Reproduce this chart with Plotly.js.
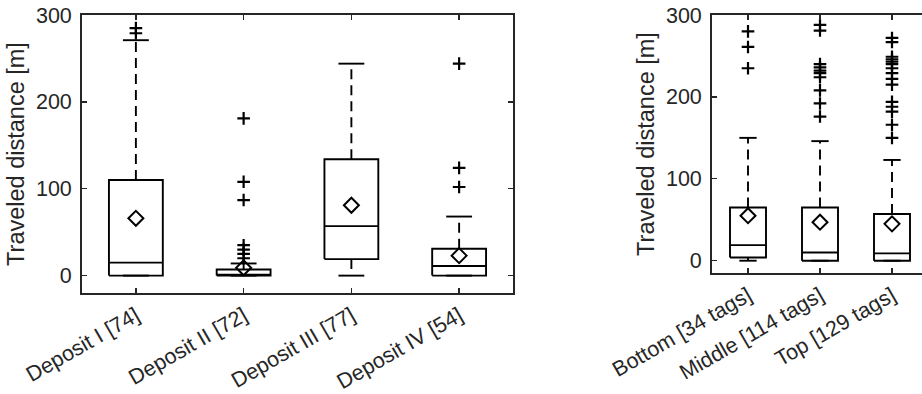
<!DOCTYPE html>
<html>
<head>
<meta charset="utf-8">
<script src="https://cdn.plot.ly/plotly-3.0.1.min.js"></script>
<style>
  html, body { margin: 0; padding: 0; background: #fff; overflow: hidden; }
  #chart { width: 940px; height: 394px; }
</style>
</head>
<body>
<div id="chart"></div>
<script>
// ---------- Data: left panel (deposits) ----------
const depositLabels = ['Deposit I [74]', 'Deposit II [72]', 'Deposit III [77]', 'Deposit IV [54]'];
const depositQ1 = [0, 0, 19, 0];
const depositMedian = [15, 1, 57, 11];
const depositQ3 = [110, 7, 134, 31];
const depositLowerWhisker = [0, 0, 0, 0];
const depositUpperWhisker = [271, 14, 244, 68];
const depositMean = [66, 9, 81, 23];
const outliersDepositI = [279, 285];
const outliersDepositII = [20, 25, 30, 35, 87, 108, 181];
const outliersDepositIII = [];
const outliersDepositIV = [102, 124, 244];

// ---------- Data: right panel (layers) ----------
const layerLabels = ['Bottom [34 tags]', 'Middle [114 tags]', 'Top [129 tags]'];
const layerQ1 = [4, 0, 0];
const layerMedian = [19, 10, 9];
const layerQ3 = [65, 65, 57];
const layerLowerWhisker = [0, 0, 0];
const layerUpperWhisker = [150, 146, 123];
const layerMean = [55, 47, 45];
const outliersBottom = [235, 261, 280];
const outliersMiddle = [176, 192, 208, 224, 229, 232, 236, 240, 281, 288];
const outliersTop = [150, 166, 182, 188, 194, 215, 222, 229, 235, 240, 243, 246, 249, 267, 272];

const yTicks = [0, 100, 200, 300];

// ---------- Styling ----------
const BOX_HALF = 0.25;
const CAP_HALF = 0.12;
const INK = '#000000';
const AXIS_COLOR = '#262626';
const TEXT_COLOR = '#262626';
const FONT = 'Liberation Sans, Arial, Helvetica, sans-serif';
const LW = 1.9;

function buildPanel(q1, med, q3, lo, hi, mean, outlierSets, xa, ya) {
  const bx = [], by = [], mx = [], my = [], wx = [], wy = [], cx = [], cy = [];
  const ox = [], oy = [], ax = [], ay = [];
  for (let i = 0; i < q1.length; i++) {
    const p = i + 1;
    bx.push(p - BOX_HALF, p + BOX_HALF, p + BOX_HALF, p - BOX_HALF, p - BOX_HALF, null);
    by.push(q1[i], q1[i], q3[i], q3[i], q1[i], null);
    mx.push(p - BOX_HALF, p + BOX_HALF, null);
    my.push(med[i], med[i], null);
    if (hi[i] > q3[i]) { wx.push(p, p, null); wy.push(q3[i], hi[i], null); }
    if (lo[i] < q1[i]) { wx.push(p, p, null); wy.push(q1[i], lo[i], null); }
    cx.push(p - CAP_HALF, p + CAP_HALF, null, p - CAP_HALF, p + CAP_HALF, null);
    cy.push(hi[i], hi[i], null, lo[i], lo[i], null);
    outlierSets[i].forEach(v => { ox.push(p); oy.push(v); });
    ax.push(p); ay.push(mean[i]);
  }
  const common = { xaxis: xa, yaxis: ya, showlegend: false, hoverinfo: 'skip', cliponaxis: false };
  return [
    Object.assign({ type: 'scatter', mode: 'lines', x: wx, y: wy,
      line: { color: INK, width: LW, dash: '10px,6px' } }, common),
    Object.assign({ type: 'scatter', mode: 'lines', x: cx, y: cy,
      line: { color: INK, width: LW } }, common),
    Object.assign({ type: 'scatter', mode: 'lines', x: bx, y: by,
      line: { color: INK, width: LW } }, common),
    Object.assign({ type: 'scatter', mode: 'lines', x: mx, y: my,
      line: { color: INK, width: LW } }, common),
    Object.assign({ type: 'scatter', mode: 'markers', x: ox, y: oy,
      marker: { symbol: 'cross-thin', size: 9, color: INK, line: { color: INK, width: 2.2 } } }, common),
    Object.assign({ type: 'scatter', mode: 'markers', x: ax, y: ay,
      marker: { symbol: 'diamond-open', size: 11.5, color: INK, line: { color: INK, width: 2 } } }, common)
  ];
}

const traces = []
  .concat(buildPanel(depositQ1, depositMedian, depositQ3, depositLowerWhisker, depositUpperWhisker,
    depositMean, [outliersDepositI, outliersDepositII, outliersDepositIII, outliersDepositIV], 'x', 'y'))
  .concat(buildPanel(layerQ1, layerMedian, layerQ3, layerLowerWhisker, layerUpperWhisker,
    layerMean, [outliersBottom, outliersMiddle, outliersTop], 'x2', 'y2'));

const W = 940, H = 394;
const px = v => v / W;
const py = v => 1 - v / H;

const axisBase = {
  showline: true, linecolor: AXIS_COLOR, linewidth: 1.9, mirror: 'ticks',
  ticks: 'inside', ticklen: 5, tickwidth: 1.3, tickcolor: AXIS_COLOR,
  showgrid: false, zeroline: false, automargin: false,
  tickfont: { family: FONT, size: 21.5, color: TEXT_COLOR }
};

const layout = {
  width: W, height: H,
  margin: { l: 0, r: 0, t: 0, b: 0 },
  paper_bgcolor: '#ffffff', plot_bgcolor: '#ffffff',
  font: { family: FONT, color: TEXT_COLOR },
  xaxis: Object.assign({}, axisBase, {
    domain: [px(82), px(513)], range: [0.5, 4.5],
    tickmode: 'array', tickvals: depositLabels.map((_, i) => i + 1), ticktext: depositLabels,
    tickangle: -30, anchor: 'y'
  }),
  yaxis: Object.assign({}, axisBase, {
    domain: [py(293), py(15)], range: [-20, 300],
    tickmode: 'array', tickvals: yTicks, ticklabelstandoff: 4, anchor: 'x',
    title: { text: 'Traveled distance [m]', font: { family: FONT, size: 23.5, color: TEXT_COLOR } }
  }),
  xaxis2: Object.assign({}, axisBase, {
    domain: [px(712), px(928)], range: [0.5, 3.5],
    tickmode: 'array', tickvals: layerLabels.map((_, i) => i + 1), ticktext: layerLabels,
    tickangle: -30, anchor: 'y2'
  }),
  yaxis2: Object.assign({}, axisBase, {
    domain: [py(273), py(15)], range: [-15, 300],
    tickmode: 'array', tickvals: yTicks, ticklabelstandoff: 4, anchor: 'x2',
    title: { text: 'Traveled distance [m]', font: { family: FONT, size: 23.5, color: TEXT_COLOR } }
  })
};

Plotly.newPlot('chart', traces, layout, { staticPlot: true, displayModeBar: false });
</script>
</body>
</html>
